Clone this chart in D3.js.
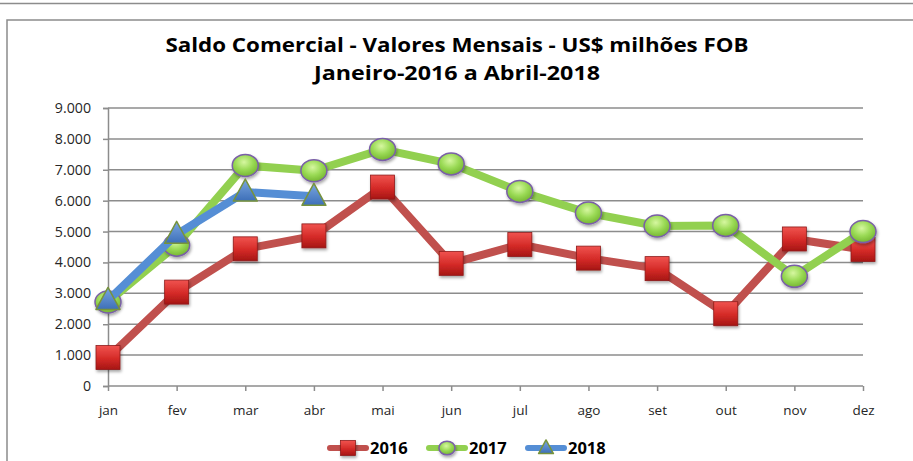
<!DOCTYPE html>
<html>
<head>
<meta charset="utf-8">
<script src="https://cdn.jsdelivr.net/npm/d3@7"></script>
<style>
  body { margin: 0; background: #fff; }
  svg { display: block; font-family: "Open Sans", "DejaVu Sans", sans-serif; }
</style>
</head>
<body>
<div id="chart"></div>
<script>
// chart data
var months = ["jan", "fev", "mar", "abr", "mai", "jun", "jul", "ago", "set", "out", "nov", "dez"];
var values2016 = [920, 3040, 4440, 4860, 6440, 3970, 4580, 4140, 3800, 2340, 4760, 4420];
var values2017 = [2720, 4560, 7140, 6970, 7660, 7190, 6300, 5600, 5180, 5200, 3550, 5000];
var values2018 = [2770, 4910, 6280, 6140];
var yTicks = [0, 1000, 2000, 3000, 4000, 5000, 6000, 7000, 8000, 9000];
var seriesNames = ["2016", "2017", "2018"];

var W = 913, H = 461;
var svg = d3.select("#chart").append("svg").attr("width", W).attr("height", H);
var defs = svg.append("defs");

var fmt = d3.formatLocale({decimal: ",", thousands: ".", grouping: [3], currency: ["", ""]}).format(",d");

// gradients + shadow
var g1 = defs.append("linearGradient").attr("id", "sq").attr("x1", 0).attr("y1", 0).attr("x2", 0).attr("y2", 1);
g1.append("stop").attr("offset", "0%").attr("stop-color", "#f0534f");
g1.append("stop").attr("offset", "55%").attr("stop-color", "#d42a27");
g1.append("stop").attr("offset", "100%").attr("stop-color", "#a51614");
var g2 = defs.append("radialGradient").attr("id", "ci").attr("cx", "45%").attr("cy", "35%").attr("r", "70%");
g2.append("stop").attr("offset", "0%").attr("stop-color", "#d6f7a0");
g2.append("stop").attr("offset", "50%").attr("stop-color", "#9ada55");
g2.append("stop").attr("offset", "100%").attr("stop-color", "#6fb02c");
var g3 = defs.append("linearGradient").attr("id", "tr").attr("x1", 0).attr("y1", 0).attr("x2", 0).attr("y2", 1);
g3.append("stop").attr("offset", "0%").attr("stop-color", "#7aa6e0");
g3.append("stop").attr("offset", "100%").attr("stop-color", "#3d6fb8");
var sh = defs.append("filter").attr("id", "shadow").attr("x", "-30%").attr("y", "-30%").attr("width", "160%").attr("height", "170%");
sh.append("feDropShadow").attr("dx", 1).attr("dy", 2).attr("stdDeviation", 1.4).attr("flood-color", "#000").attr("flood-opacity", 0.35);

// frame lines
svg.append("line").attr("x1", 0).attr("x2", W).attr("y1", 3.5).attr("y2", 3.5).attr("stroke", "#8c8c8c").attr("stroke-width", 1.5);
svg.append("path").attr("d", "M7," + H + "V20H" + W).attr("fill", "none").attr("stroke", "#8c8c8c").attr("stroke-width", 1.5);

// title (the original font is narrow and wide-set, so stretch to its width)
svg.append("text").attr("x", 457).attr("y", 52).attr("text-anchor", "middle")
  .attr("textLength", 583).attr("lengthAdjust", "spacingAndGlyphs")
  .style("font-size", "20px").style("font-weight", "bold").attr("fill", "#000")
  .text("Saldo Comercial - Valores Mensais - US$ milhões FOB");
svg.append("text").attr("x", 457).attr("y", 80).attr("text-anchor", "middle")
  .attr("textLength", 286).attr("lengthAdjust", "spacingAndGlyphs")
  .style("font-size", "20px").style("font-weight", "bold").attr("fill", "#000")
  .text("Janeiro-2016 a Abril-2018");

var x = d3.scalePoint().domain(months).range([108, 863]);
var y = d3.scaleLinear().domain([0, 9000]).range([386, 108]);

// gridlines
svg.append("g").selectAll("line").data(yTicks.slice(1)).enter().append("line")
  .attr("x1", 108).attr("x2", 863)
  .attr("y1", function (d) { return y(d); }).attr("y2", function (d) { return y(d); })
  .attr("stroke", "#8c8c8c").attr("stroke-width", 1.5);

// axes
var yAxis = svg.append("g").attr("transform", "translate(108,0)")
  .call(d3.axisLeft(y).tickValues(yTicks).tickFormat(fmt).tickSize(5).tickPadding(12));
var xAxis = svg.append("g").attr("transform", "translate(0,386)")
  .call(d3.axisBottom(x).tickSize(5).tickPadding(14));
[yAxis, xAxis].forEach(function (a) {
  a.select(".domain").attr("stroke", "#8c8c8c").attr("stroke-width", 1.5);
  a.selectAll(".tick line").attr("stroke", "#8c8c8c").attr("stroke-width", 1.5);
  a.selectAll("text").attr("fill", "#262626").style("font-size", "13.5px").style("font-family", "'Open Sans', sans-serif");
});
yAxis.selectAll("text").style("font-size", "14.2px");
xAxis.select(".domain").attr("d", "M108,0H863");

var line = d3.line().x(function (d, i) { return x(months[i]); }).y(function (d) { return y(d); });

var series = [
  {name: "2016", values: values2016, color: "#c0504d", marker: "square"},
  {name: "2017", values: values2017, color: "#92d050", marker: "circle"},
  {name: "2018", values: values2018, color: "#558ed5", marker: "triangle"}
];

function drawMarker(g, type, cx, cy, k) {
  k = k || 1;
  if (type === "square") {
    g.append("rect").attr("x", cx - 12 * k).attr("y", cy - 12 * k).attr("width", 24 * k).attr("height", 24 * k)
      .attr("fill", "url(#sq)").attr("stroke", "#8e1b19").attr("stroke-width", 0.8).attr("filter", "url(#shadow)");
  } else if (type === "circle") {
    g.append("ellipse").attr("cx", cx).attr("cy", cy).attr("rx", 13 * k).attr("ry", 11 * k)
      .attr("fill", "url(#ci)").attr("stroke", "#7a5ea8").attr("stroke-width", 1.5).attr("filter", "url(#shadow)");
  } else {
    g.append("path").attr("d", "M" + cx + "," + (cy - 13 * k) + "L" + (cx + 12 * k) + "," + (cy + 9 * k) + "L" + (cx - 12 * k) + "," + (cy + 9 * k) + "Z")
      .attr("fill", "url(#tr)").attr("stroke", "#77933c").attr("stroke-width", 1.5).attr("stroke-linejoin", "round");
  }
}

series.forEach(function (s) {
  var g = svg.append("g");
  g.append("path").attr("d", line(s.values)).attr("fill", "none").attr("stroke", s.color)
    .attr("stroke-width", 8).attr("stroke-linejoin", "round").attr("stroke-linecap", "round");
  s.values.forEach(function (v, i) { drawMarker(g, s.marker, x(months[i]), y(v)); });
});

// legend
var legendX = [327, 426, 525];
series.forEach(function (s, i) {
  var lg = svg.append("g").attr("transform", "translate(" + legendX[i] + ",448)");
  lg.append("line").attr("x1", 3).attr("x2", 39).attr("stroke", s.color).attr("stroke-width", 6).attr("stroke-linecap", "round");
  drawMarker(lg, s.marker, 21, 0, 0.62);
  lg.append("text").attr("x", 43).attr("y", 6).style("font-size", "16.5px").style("font-weight", "bold")
    .attr("fill", "#000").text(seriesNames[i]);
});
</script>
</body>
</html>
